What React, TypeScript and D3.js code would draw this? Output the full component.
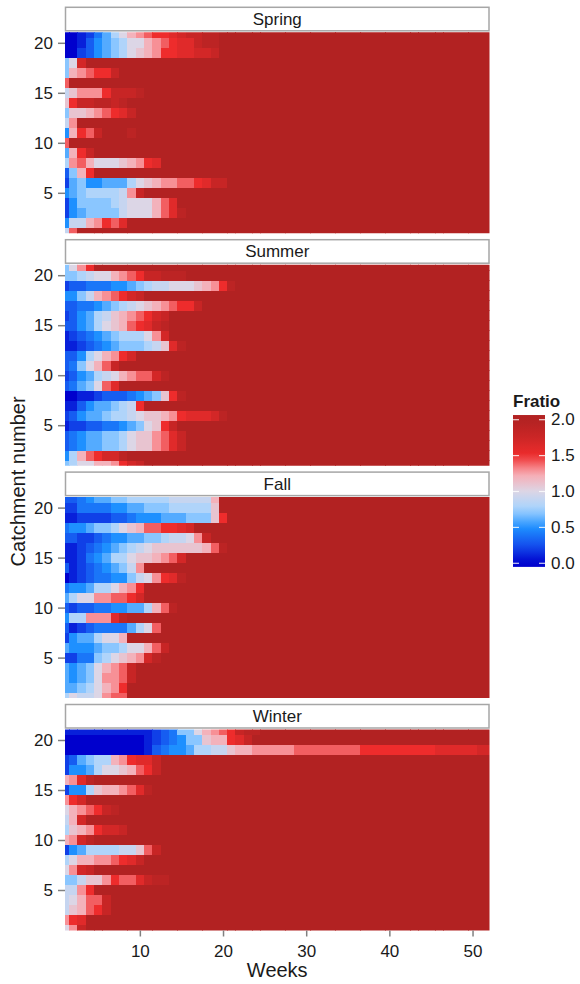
import React, { useRef, useEffect } from "react";
import * as d3 from "d3";

const seasons = ["Spring", "Summer", "Fall", "Winter"];
const weeks = d3.range(1, 53);
const catchments = d3.range(1, 22);
const xTicks = [10, 20, 30, 40, 50];
const yTicks = [5, 10, 15, 20];
const legendTicks = [0, 0.5, 1, 1.5, 2];

// Fratio per week, one string per catchment (catchment 1 first).
// codes: 0-9 = 0.0-0.9, a-k = 1.0-2.0 ; groups of 10 weeks
const springRows = [
  "9ekkkkkkkk kkkkkkkkkk kkkkkkkkkk kkkkkkkkkk kkkkkkkkkk kk",
  "599cdfegkk kkkkkkkkkk kkkkkkkkkk kkkkkkkkkk kkkkkkkkkk kk",
  "25677779aa acegjkkkkk kkkkkkkkkk kkkkkkkkkk kkkkkkkkkk kk",
  "25777789aa acegkkkkkk kkkkkkkkkk kkkkkkkkkk kkkkkkkkkk kk",
  "56788889di kkkkkkkkkk kkkkkkkkkk kkkkkkkkkk kkkkkkkkkk kk",
  "267556668a bcddeefgii kkkkkkkkkk kkkkkkkkkk kkkkkkkkkk kk",
  "37cfkkkkkk kkkkkkkkkk kkkkkkkkkk kkkkkkkkkk kkkkkkkkkk kk",
  "8decaaabcd fgkkkkkkkk kkkkkkkkkk kkkkkkkkkk kkkkkkkkkk kk",
  "6cfikkkkkk kkkkkkkkkk kkkkkkkkkk kkkkkkkkkk kkkkkkkkkk kk",
  "ekkkkkkkkk kkkkkkkkkk kkkkkkkkkk kkkkkkkkkk kkkkkkkkkk kk",
  "5cfeikkkjk kkkkkkkkkk kkkkkkkkkk kkkkkkkkkk kkkkkkkkkk kk",
  "9dkkkkkkkk kkkkkkkkkk kkkkkkkkkk kkkkkkkkkk kkkkkkkkkk kk",
  "7bbcdefgik kkkkkkkkkk kkkkkkkkkk kkkkkkkkkk kkkkkkkkkk kk",
  "bfiijjijkk kkkkkkkkkk kkkkkkkkkk kkkkkkkkkk kkkkkkkkkk kk",
  "9bdddfiiij kkkkkkkkkk kkkkkkkkkk kkkkkkkkkk kkkkkkkkkk kk",
  "ekkkkkkkkk kkkkkkkkkk kkkkkkkkkk kkkkkkkkkk kkkkkkkkkk kk",
  "7cdeffikkk kkkkkkkkkk kkkkkkkkkk kkkkkkkkkk kkkkkkkkkk kk",
  "7ahkkkkkkk kkkkkkkkkk kkkkkkkkkk kkkkkkkkkk kkkkkkkkkk kk",
  "00235678ab cdffgghhik kkkkkkkkkk kkkkkkkkkk kkkkkkkkkk kk",
  "00135678aa cdefggijjk kkkkkkkkkk kkkkkkkkkk kkkkkkkkkk kk",
  "0012468acd effghiijjk kkkkkkkkkk kkkkkkkkkk kkkkkkkkkk kk",
];

const summerRows = [
  "78aaccdfhi kkkkkkkkkk kkkkkkkkkk kkkkkkkkkk kkkkkkkkkk kk",
  "58cefhhjkk kkkkkkkkkk kkkkkkkkkk kkkkkkkkkk kkkkkkkkkk kk",
  "34566778ab bdegikkkkk kkkkkkkkkk kkkkkkkkkk kkkkkkkkkk kk",
  "34566778ab bdegikkkkk kkkkkkkkkk kkkkkkkkkk kkkkkkkkkk kk",
  "1223344567 abfikkkkkk kkkkkkkkkk kkkkkkkkkk kkkkkkkkkk kk",
  "235667889a bbcdfggghj kkkkkkkkkk kkkkkkkkkk kkkkkkkkkk kk",
  "113566789f kkkkkkkkkk kkkkkkkkkk kkkkkkkkkk kkkkkkkkkk kk",
  "0011233345 67bfjkkkkk kkkkkkkkkk kkkkkkkkkk kkkkkkkkkk kk",
  "3467aegkkk kkkkkkkkkk kkkkkkkkkk kkkkkkkkkk kkkkkkkkkk kk",
  "235689acde ehjkkkkkkk kkkkkkkkkk kkkkkkkkkk kkkkkkkkkk kk",
  "347aceikkk kkkkkkkkkk kkkkkkkkkk kkkkkkkkkk kkkkkkkkkk kk",
  "3358acdfhk kkkkkkkkkk kkkkkkkkkk kkkkkkkkkk kkkkkkkkkk kk",
  "1123456777 89bgjkkkkk kkkkkkkkkk kkkkkkkkkk kkkkkkkkkk kk",
  "1234567888 adhkkkkkkk kkkkkkkkkk kkkkkkkkkk kkkkkkkkkk kk",
  "33568abcef gijkkkkkkk kkkkkkkkkk kkkkkkkkkk kkkkkkkkkk kk",
  "235689bcde fhikkkkkkk kkkkkkkkkk kkkkkkkkkk kkkkkkkkkk kk",
  "334456789a bcdeffikkk kkkkkkkkkk kkkkkkkkkk kkkkkkkkkk kk",
  "5579cdefhi kkkkkkkkkk kkkkkkkkkk kkkkkkkkkk kkkkkkkkkk kk",
  "2334445567 899aaabcdf jkkkkkkkkk kkkkkkkkkk kkkkkkkkkk kk",
  "7789aacdef iijjjkkkkk kkkkkkkkkk kkkkkkkkkk kkkkkkkkkk kk",
  "7adfkkkkkk kkkkkkkkkk kkkkkkkkkk kkkkkkkkkk kkkkkkkkkk kk",
];

const fallRows = [
  "8a99adeekk kkkkkkkkkk kkkkkkkkkk kkkkkkkkkk kkkkkkkkkk kk",
  "6678acdfkk kkkkkkkkkk kkkkkkkkkk kkkkkkkkkk kkkkkkkkkk kk",
  "6567addeik kkkkkkkkkk kkkkkkkkkk kkkkkkkkkk kkkkkkkkkk kk",
  "6567acdeik kkkkkkkkkk kkkkkkkkkk kkkkkkkkkk kkkkkkkkkk kk",
  "224478abcd hjkkkkkkkk kkkkkkkkkk kkkkkkkkkk kkkkkkkkkk kk",
  "65556778aa ceikkkkkkk kkkkkkkkkk kkkkkkkkkk kkkkkkkkkk kk",
  "25668aackk kkkkkkkkkk kkkkkkkkkk kkkkkkkkkk kkkkkkkkkk kk",
  "3123444468 aekkkkkkkk kkkkkkkkkk kkkkkkkkkk kkkkkkkkkk kk",
  "588dddgjkk kkkkkkkkkk kkkkkkkkkk kkkkkkkkkk kkkkkkkkkk kk",
  "3233445566 8cejkkkkkk kkkkkkkkkk kkkkkkkkkk kkkkkkkkkk kk",
  "68aaddeefh kkkkkkkkkk kkkkkkkkkk kkkkkkkkkk kkkkkkkkkk kk",
  "455688acdf kkkkkkkkkk kkkkkkkkkk kkkkkkkkkk kkkkkkkkkk kk",
  "0123445579 adfgjkkkkk kkkkkkkkkk kkkkkkkkkk kkkkkkkkkk kk",
  "312345679d kkkkkkkkkk kkkkkkkkkk kkkkkkkkkk kkkkkkkkkk kk",
  "11245688ab bcdehkkkkk kkkkkkkkkk kkkkkkkkkk kkkkkkkkkk kk",
  "1123456789 abbbbbbcej kkkkkkkkkk kkkkkkkkkk kkkkkkkkkk kk",
  "3322345566 77899adikk kkkkkkkkkk kkkkkkkkkk kkkkkkkkkk kk",
  "4556778abc eeffghkkkk kkkkkkkkkk kkkkkkkkkk kkkkkkkkkk kk",
  "1122223345 55666777bf kkkkkkkkkk kkkkkkkkkk kkkkkkkkkk kk",
  "2244445566 77788888bk kkkkkkkkkk kkkkkkkkkk kkkkkkkkkk kk",
  "3345667788 88899999ck kkkkkkkkkk kkkkkkkkkk kkkkkkkkkk kk",
];

const winterRows = [
  "adikkkkkkk kkkkkkkkkk kkkkkkkkkk kkkkkkkkkk kkkkkkkkkk kk",
  "dfgkkkkkkk kkkkkkkkkk kkkkkkkkkk kkkkkkkkkk kkkkkkkkkk kk",
  "9bcefikkkk kkkkkkkkkk kkkkkkkkkk kkkkkkkkkk kkkkkkkkkk kk",
  "9aceeikkkk kkkkkkkkkk kkkkkkkkkk kkkkkkkkkk kkkkkkkkkk kk",
  "99dfkkkkkk kkkkkkkkkk kkkkkkkkkk kkkkkkkkkk kkkkkkkkkk kk",
  "779bbdfeeg ijjkkkkkkk kkkkkkkkkk kkkkkkkkkk kkkkkkkkkk kk",
  "adhikkkkkk kkkkkkkkkk kkkkkkkkkk kkkkkkkkkk kkkkkkkkkk kk",
  "8accddefgi kkkkkkkkkk kkkkkkkkkk kkkkkkkkkk kkkkkkkkkk kk",
  "256888899b eikkkkkkkk kkkkkkkkkk kkkkkkkkkk kkkkkkkkkk kk",
  "cdhjkkkkkk kkkkkkkkkk kkkkkkkkkk kkkkkkkkkk kkkkkkkkkk kk",
  "8bcdfhhikk kkkkkkkkkk kkkkkkkkkk kkkkkkkkkk kkkkkkkkkk kk",
  "9chkkkkkkk kkkkkkkkkk kkkkkkkkkk kkkkkkkkkk kkkkkkkkkk kk",
  "acdefijkkk kkkkkkkkkk kkkkkkkkkk kkkkkkkkkk kkkkkkkkkk kk",
  "dfhkkkkkkk kkkkkkkkkk kkkkkkkkkk kkkkkkkkkk kkkkkkkkkk kk",
  "2558bccdeg jkkkkkkkkk kkkkkkkkkk kkkkkkkkkk kkkkkkkkkk kk",
  "cdgjkkkkkk kkkkkkkkkk kkkkkkkkkk kkkkkkkkkk kkkkkkkkkk kk",
  "25568aabce fikkkkkkkk kkkkkkkkkk kkkkkkkkkk kkkkkkkkkk kk",
  "236788cdfg gikkkkkkkk kkkkkkkkkk kkkkkkkkkk kkkkkkkkkk kk",
  "0000000000 1345568899 bccdddddee eeeeeeffff fffffggggg hh",
  "0000000000 1234577bcc fgikkkkkkk kkkkkkkkkk kkkkkkkkkk kk",
  "1111111111 123477acde fijjkkkkkk kkkkkkkkkk kkkkkkkkkk kk",
];

const seasonRows = [springRows, summerRows, fallRows, winterRows];

const codes = "0123456789abcdefghijk";
const decode = (ch: string) => codes.indexOf(ch) / 10;

const FONT = "'Liberation Sans', Arial, Helvetica, sans-serif";

const App = () => {
  const svgRef = useRef<SVGSVGElement>(null);

  const drawChart = () => {
    const width = 580;
    const height = 984;
    const left = 65;
    const right = 489.5;
    const panelH = 201;
    const firstTop = 32.3;
    const step = 232.4;

    const svg = d3.select(svgRef.current);
    svg.selectAll("*").remove();
    svg.attr("width", width).attr("height", height);

    /* colour scale, same stops as the legend */
    const fill = d3
      .scaleLinear<string>()
      .domain([0, 0.25, 0.5, 0.75, 1.0, 1.25, 1.5, 1.75, 2.0])
      .range(["#0000CD", "#1450EE", "#1E90FF", "#A5D3FF", "#DCD6E6", "#F9A9B0", "#EE2C2C", "#CC2626", "#B22222"])
      .clamp(true);

    const x = d3.scaleLinear().domain([1.0, 52.04]).range([left, right]);

    seasonRows.forEach((rows, si) => {
      const top = firstTop + si * step;
      const y = d3.scaleLinear().domain([0.95, 21.05]).range([top + panelH, top]);

      const cells = rows.flatMap((row, ci) =>
        row
          .replace(/ /g, "")
          .split("")
          .map((ch, wi) => ({ week: weeks[wi], catchment: catchments[ci], value: decode(ch) }))
      );

      svg
        .append("clipPath")
        .attr("id", `panel-clip-${si}`)
        .append("rect")
        .attr("x", left)
        .attr("y", top)
        .attr("width", right - left)
        .attr("height", panelH);

      /* heat cells */
      svg
        .append("g")
        .attr("clip-path", `url(#panel-clip-${si})`)
        .selectAll("rect")
        .data(cells)
        .enter()
        .append("rect")
        .attr("x", (d) => x(d.week - 0.5))
        .attr("y", (d) => y(d.catchment + 0.5))
        .attr("width", (d) => x(d.week + 0.5) - x(d.week - 0.5) + 0.4)
        .attr("height", (d) => y(d.catchment - 0.5) - y(d.catchment + 0.5) + 0.4)
        .attr("fill", (d) => fill(d.value))
        .attr("shape-rendering", "crispEdges");

      /* facet strip */
      svg
        .append("rect")
        .attr("x", left + 0.5)
        .attr("y", top - 25)
        .attr("width", right - left - 1)
        .attr("height", 23.5)
        .attr("fill", "white")
        .attr("stroke", "#a6a6a6")
        .attr("stroke-width", 1.5);
      svg
        .append("text")
        .attr("x", (left + right) / 2)
        .attr("y", top - 13)
        .attr("text-anchor", "middle")
        .attr("dominant-baseline", "central")
        .style("font-family", FONT)
        .style("font-size", "17px")
        .style("fill", "#1a1a1a")
        .text(seasons[si]);

      /* y axis */
      const yAxis = svg
        .append("g")
        .attr("transform", `translate(${left}, 0)`)
        .call(d3.axisLeft(y).tickValues(yTicks).tickSize(7).tickPadding(5));
      yAxis.select(".domain").remove();
      yAxis.selectAll(".tick line").attr("stroke", "#808080").attr("stroke-width", 1.5);
      yAxis
        .selectAll(".tick text")
        .style("font-family", FONT)
        .style("font-size", "17px")
        .style("fill", "#1a1a1a");

      /* x axis under the last panel */
      if (si === seasonRows.length - 1) {
        const xAxis = svg
          .append("g")
          .attr("transform", `translate(0, ${top + panelH})`)
          .call(d3.axisBottom(x).tickValues(xTicks).tickSize(6).tickPadding(8));
        xAxis.select(".domain").remove();
        xAxis.selectAll(".tick line").attr("stroke", "#808080").attr("stroke-width", 1.5);
        xAxis
          .selectAll(".tick text")
          .style("font-family", FONT)
          .style("font-size", "17px")
          .style("fill", "#1a1a1a");
      }
    });

    /* axis titles */
    svg
      .append("text")
      .attr("x", (left + right) / 2)
      .attr("y", 977)
      .attr("text-anchor", "middle")
      .style("font-family", FONT)
      .style("font-size", "20px")
      .style("fill", "#1a1a1a")
      .text("Weeks");

    svg
      .append("text")
      .attr("transform", `translate(25, ${firstTop + (3 * step + panelH) / 2}) rotate(-90)`)
      .attr("text-anchor", "middle")
      .style("font-family", FONT)
      .style("font-size", "20px")
      .style("fill", "#1a1a1a")
      .text("Catchment number");

    /* legend */
    const ly = d3.scaleLinear().domain([0, 2]).range([563.3, 419.7]);
    const barX = 513;
    const barW = 32;
    const grad = svg
      .append("defs")
      .append("linearGradient")
      .attr("id", "fratio-grad")
      .attr("x1", 0)
      .attr("y1", 1)
      .attr("x2", 0)
      .attr("y2", 0);
    const gMin = -0.05;
    const gMax = 2.065;
    d3.range(0, 21).forEach((i) => {
      const v = gMin + ((gMax - gMin) * i) / 20;
      grad
        .append("stop")
        .attr("offset", `${i * 5}%`)
        .attr("stop-color", fill(v));
    });
    svg
      .append("rect")
      .attr("x", barX)
      .attr("y", ly(gMax))
      .attr("width", barW)
      .attr("height", ly(gMin) - ly(gMax))
      .attr("fill", "url(#fratio-grad)");

    svg
      .selectAll(".legend-tick")
      .data(legendTicks)
      .enter()
      .append("g")
      .each(function (d) {
        const g = d3.select(this);
        g.append("line")
          .attr("x1", barX)
          .attr("x2", barX + 6)
          .attr("y1", ly(d))
          .attr("y2", ly(d))
          .attr("stroke", "white")
          .attr("stroke-width", 1.2)
          .attr("opacity", 0.8);
        g.append("line")
          .attr("x1", barX + barW - 6)
          .attr("x2", barX + barW)
          .attr("y1", ly(d))
          .attr("y2", ly(d))
          .attr("stroke", "white")
          .attr("stroke-width", 1.2)
          .attr("opacity", 0.8);
        g.append("text")
          .attr("x", barX + barW + 6)
          .attr("y", ly(d))
          .attr("dominant-baseline", "central")
          .style("font-family", FONT)
          .style("font-size", "17px")
          .style("fill", "#1a1a1a")
          .text(d3.format(".1f")(d));
      });

    svg
      .append("text")
      .attr("x", barX)
      .attr("y", 407)
      .style("font-family", FONT)
      .style("font-size", "17px")
      .style("font-weight", "bold")
      .style("fill", "#1a1a1a")
      .text("Fratio");
  };

  useEffect(() => {
    drawChart();
  }, []);

  return (
    <div style={{ position: "absolute", left: 0, top: 0 }}>
      <svg ref={svgRef} style={{ display: "block" }} />
    </div>
  );
};

export default App;
